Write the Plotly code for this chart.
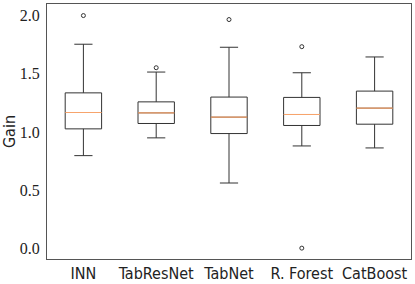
import plotly.graph_objects as go

categories = ["INN", "TabResNet", "TabNet", "R. Forest", "CatBoost"]
positions = [1, 2, 3, 4, 5]
lower_whisker = [0.797, 0.949, 0.563, 0.880, 0.863]
q1 = [1.026, 1.072, 0.986, 1.055, 1.066]
median = [1.166, 1.163, 1.126, 1.149, 1.203]
q3 = [1.334, 1.257, 1.298, 1.295, 1.349]
upper_whisker = [1.750, 1.512, 1.724, 1.506, 1.641]
outlier_pos = [1, 2, 3, 4, 4]
outlier_val = [1.995, 1.549, 1.961, 1.729, 0.006]

y_ticks = [0.0, 0.5, 1.0, 1.5, 2.0]

box_width = 0.5

fig = go.Figure()
fig.add_trace(go.Box(
    x=positions, q1=q1, median=median, q3=q3,
    lowerfence=lower_whisker, upperfence=upper_whisker,
    orientation="v", width=box_width, whiskerwidth=0.5,
    line=dict(color="#333333", width=1), fillcolor="rgba(0,0,0,0)",
    boxpoints=False, showlegend=False, hoverinfo="skip",
))

mx, my = [], []
for p, m in zip(positions, median):
    mx += [p - box_width / 2, p + box_width / 2, None]
    my += [m, m, None]
fig.add_trace(go.Scatter(x=mx, y=my, mode="lines",
                         line=dict(color="#f7a46c", width=1.2),
                         showlegend=False, hoverinfo="skip"))

fig.add_trace(go.Scatter(x=outlier_pos, y=outlier_val, mode="markers",
                         marker=dict(symbol="circle-open", size=4,
                                     color="#333333", line=dict(width=1)),
                         showlegend=False, hoverinfo="skip"))

sans = "DejaVu Sans Condensed, Liberation Sans"
fig.update_layout(
    width=415, height=284,
    margin=dict(l=47, r=4, t=4, b=25),
    paper_bgcolor="white", plot_bgcolor="white",
    xaxis=dict(range=[0.5, 5.5], tickvals=positions, ticktext=categories,
               showgrid=False, zeroline=False, showline=True, mirror=True,
               linecolor="#555555", linewidth=1, ticks="", automargin=False,
               ticklabelstandoff=0,
               tickfont=dict(family=sans, size=16, color="#222222")),
    yaxis=dict(range=[-0.087, 2.094], tickvals=y_ticks,
               ticktext=[f"{v:.1f}" for v in y_ticks],
               showgrid=False, zeroline=False, showline=True, mirror=True,
               linecolor="#555555", linewidth=1, ticks="", automargin=False,
               ticklabelstandoff=3,
               tickfont=dict(family="Liberation Serif, DejaVu Serif, serif",
                             size=16, color="#222222"),
               title=dict(text="Gain", standoff=4,
                          font=dict(family=sans, size=16, color="#222222"))),
)

fig.write_html("out.html", config={"responsive": False, "displayModeBar": False},
               post_script="document.body.style.margin='0';document.body.style.padding='0';")
